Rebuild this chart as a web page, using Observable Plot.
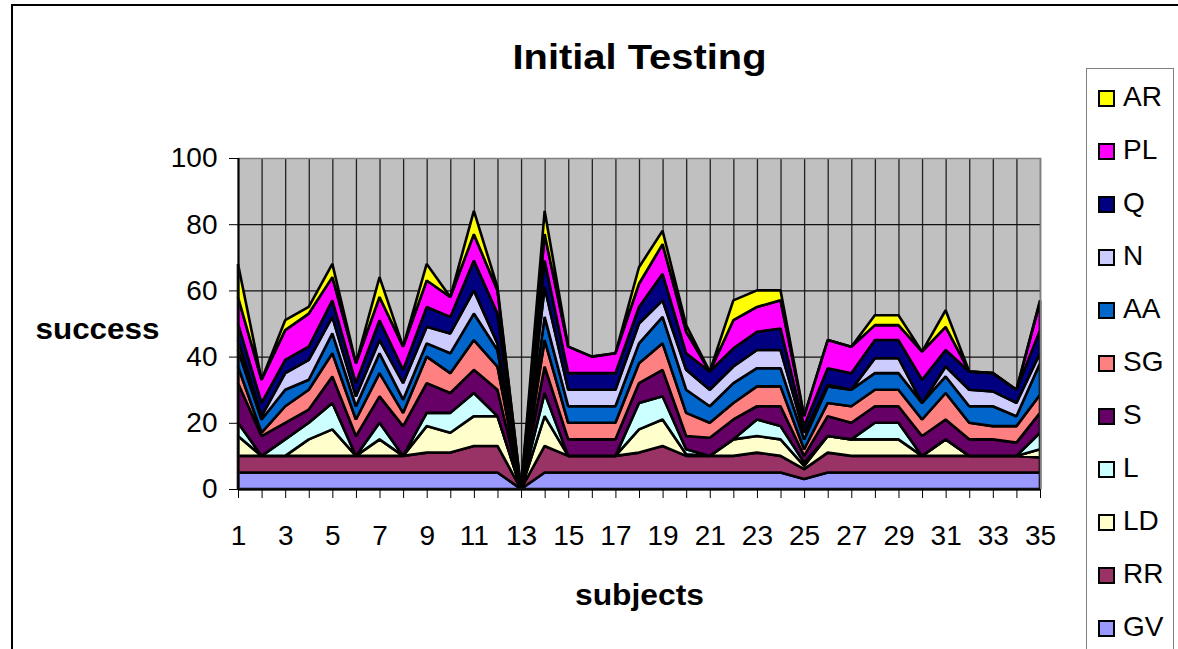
<!DOCTYPE html>
<html>
<head>
<meta charset="utf-8">
<script src="https://cdn.jsdelivr.net/npm/d3@7"></script>
<script src="https://cdn.jsdelivr.net/npm/@observablehq/plot@0.6"></script>
<style>
  html, body { margin: 0; padding: 0; background: #fff; }
  #wrap { position: relative; width: 1178px; height: 649px; overflow: hidden; font-family: "Liberation Sans", Arial, sans-serif; }
  #border { position: absolute; left: 11px; top: 4px; width: 1300px; height: 800px; border-left: 2px solid #000; border-top: 2px solid #000; pointer-events: none; }
  #legend { position: absolute; left: 1086px; top: 68px; width: 86px; height: 700px; border: 1px solid #808080; background: #fff; }
  .item { position: absolute; left: 0; height: 30px; }
  .sw { position: absolute; left: 11px; width: 13px; height: 13px; border: 2px solid #000; }
  .lab { position: absolute; left: 36px; font-size: 28px; line-height: 30px; color: #000; white-space: nowrap; }
</style>
</head>
<body>
<div id="wrap"></div>
<script>
// Categories (subjects)
const subjects = [1,2,3,4,5,6,7,8,9,10,11,12,13,14,15,16,17,18,19,20,21,22,23,24,25,26,27,28,29,30,31,32,33,34,35];
const oddLabels = [1,3,5,7,9,11,13,15,17,19,21,23,25,27,29,31,33,35];
const yTicks = [0,20,40,60,80,100];

// Series values (bottom of stack first)
const GV = [5,5,5,5,5,5,5,5,5,5,5,5,0,5,5,5,5,5,5,5,5,5,5,5,3,5,5,5,5,5,5,5,5,5,5];
const RR = [5,5,5,5,5,5,5,5,6,6,8,8,0,8,5,5,5,6,8,5,5,5,6,5,3,6,5,5,5,5,5,5,5,5,4.5];
const LD = [6,0,0,5,8,0,5,0,8,6,9,9,0,9,0,0,0,7,8,0.5,0,5,5,5,1,5,5,5,5,0,5,0,0,0,2.5];
const L  = [4,0,5,5,8,0,5,0,4,6,7,0,0,7,0,0,0,8,7,1.5,0,0,5,4,1,0,0,5,5,0,0,0,0,0,5];
const S  = [12,6,5,4,8,6,8,9,9,6,7,8,0,8,5,5,5,6,8,4,5.5,6,4,6,2,6,5,5,5,6,6,5,5,4,6];
const SG = [5,1,5,6,7,5,7,4,8,6,9,7,0,8,5,5,5,6,8,7,4.5,5,6,6,2,4,5,5,5,5,8,5,4,5,5.5];
const AA = [5,4,5,3,6,4,6,4,4,6,8,5,0,7,5,5,5,6,8,7,5,6,5.5,5.5,3,5,5,5,5,5,5,5,6,3,9.5];
const N  = [3,1,5,6,5,3,4,5,5,6,7,2,0,9,5,5,5,6,5,6,5,5,5.5,5.5,2,0.5,0,4.5,4.5,0,3,5,4.5,4,3];
const Q  = [5,4,4,4,5,4,6,4,6,5,9,9,0,8,5,5,5,5,8,5,5.5,5.5,5.5,6.5,2,5,5,5.5,5.5,7,5,5.5,5.5,4,7];
const PL = [8,7,9,10,7,6,7,7,8,6,8,7,0,8,8,5,6,7,9,6.5,0,8.5,7.5,8.5,3,8.5,8,4.5,4.5,8.5,7,0,0,0,8.5];
const AR = [10,0,3,2,4,0,6,0,5,0,7,1,0,7,0,0,0,5,4,2,0,6,5,3,0,0,0,3,3,0,5,0,0,0,0.5];

const seriesNames = ["GV","RR","LD","L","S","SG","AA","N","Q","PL","AR"];
const seriesValues = [GV,RR,LD,L,S,SG,AA,N,Q,PL,AR];
const seriesColors = ["#9999FF","#993366","#FFFFCC","#CCFFFF","#660066","#FF8080","#0066CC","#CCCCFF","#000080","#FF00FF","#FFFF00"];

const rows = [];
seriesNames.forEach((name, k) => {
  subjects.forEach((s, i) => rows.push({subject: s, series: name, value: seriesValues[k][i]}));
});

const font = "Liberation Sans, Arial, sans-serif";

const chart = Plot.plot({
  width: 1178,
  height: 649,
  marginLeft: 238,
  marginRight: 138,
  marginTop: 158,
  marginBottom: 160,
  style: {fontFamily: font, background: "transparent", overflow: "visible"},
  x: {type: "linear", domain: [1, 35]},
  y: {domain: [0, 100]},
  color: {domain: seriesNames, range: seriesColors},
  marks: [
    Plot.frame({fill: "#C0C0C0"}),
    Plot.gridX(subjects, {stroke: "#222", strokeOpacity: 1, strokeWidth: 1.3}),
    Plot.gridY([20,40,60,80], {stroke: "#111", strokeOpacity: 1, strokeWidth: 1.3}),
    Plot.areaY(rows, Plot.stackY({
      x: "subject", y: "value", z: "series", fill: "series",
      order: seriesNames,
      stroke: "#000", strokeWidth: 2.6, strokeLinejoin: "miter"
    })),
    Plot.frame({stroke: "#808080", strokeWidth: 1.5}),
    Plot.ruleY([0], {stroke: "#000", strokeWidth: 2}),
    Plot.ruleX([1], {stroke: "#000", strokeWidth: 2}),
    Plot.axisY({ticks: yTicks, tickSize: 9, tickPadding: 12, fontSize: 28, label: null, tickFormat: d => String(d)}),
    Plot.axisX({ticks: subjects, tickSize: 9, tickPadding: 27, fontSize: 28, label: null,
      tickFormat: d => oddLabels.includes(d) ? String(d) : ""}),
    Plot.text(["Initial Testing"], {frameAnchor: "top", dy: -101, textAnchor: "middle", lineAnchor: "middle", text: d => d, fontSize: 35, fontWeight: "bold", fill: "#000"}),
    Plot.text(["success"], {frameAnchor: "left", dx: -141, dy: 5, textAnchor: "middle", lineAnchor: "middle", text: d => d, fontSize: 30, fontWeight: "bold", fill: "#000"}),
    Plot.text(["subjects"], {frameAnchor: "bottom", dy: 106, textAnchor: "middle", lineAnchor: "middle", text: d => d, fontSize: 30, fontWeight: "bold", fill: "#000"})
  ]
});

// stretch labels to reference width
d3.select(chart).selectAll("text").filter(function() { return this.textContent === "Initial Testing"; })
  .attr("textLength", 254).attr("lengthAdjust", "spacingAndGlyphs");
d3.select(chart).selectAll("text").filter(function() { return this.textContent === "success"; })
  .attr("textLength", 124).attr("lengthAdjust", "spacingAndGlyphs");
d3.select(chart).selectAll("text").filter(function() { return this.textContent === "subjects"; })
  .attr("textLength", 129).attr("lengthAdjust", "spacingAndGlyphs");

const wrap = document.getElementById("wrap");
chart.style.position = "absolute";
chart.style.left = "0px";
chart.style.top = "0px";
wrap.appendChild(chart);

const border = document.createElement("div");
border.id = "border";
wrap.appendChild(border);

// Legend (top item = last series)
const legend = document.createElement("div");
legend.id = "legend";
const legendOrder = seriesNames.slice().reverse();
legendOrder.forEach((name, i) => {
  const item = document.createElement("div");
  item.className = "item";
  item.style.top = (13 + i * 53) + "px";
  const sw = document.createElement("div");
  sw.className = "sw";
  sw.style.top = "8px";
  sw.style.background = seriesColors[seriesNames.indexOf(name)];
  const lab = document.createElement("div");
  lab.className = "lab";
  lab.textContent = name;
  item.appendChild(sw);
  item.appendChild(lab);
  legend.appendChild(item);
});
wrap.appendChild(legend);
</script>
</body>
</html>
